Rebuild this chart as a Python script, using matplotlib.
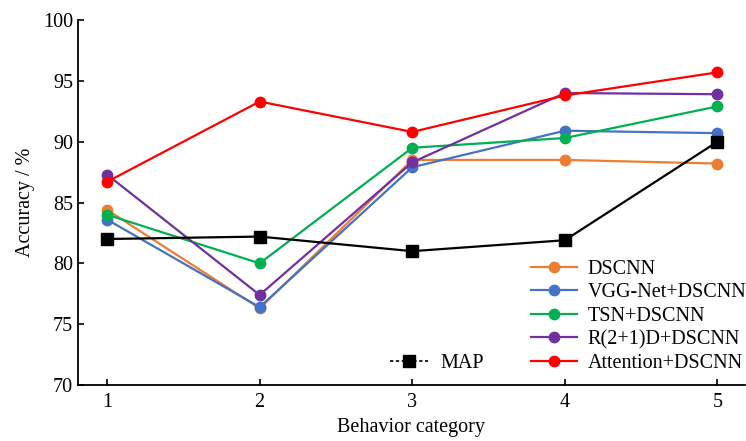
import matplotlib
matplotlib.use('Agg')
import matplotlib.pyplot as plt
from matplotlib.lines import Line2D

plt.rcParams['font.family'] = ['Liberation Serif', 'DejaVu Serif']

categories = [1, 2, 3, 4, 5]

dscnn = [84.4, 76.3, 88.5, 88.5, 88.2]
vgg_dscnn = [83.6, 76.4, 87.9, 90.9, 90.7]
tsn_dscnn = [84.0, 80.0, 89.5, 90.3, 92.9]
r21d_dscnn = [87.3, 77.4, 88.3, 94.0, 93.9]
attn_dscnn = [86.7, 93.3, 90.8, 93.8, 95.7]
map_vals = [82.0, 82.2, 81.0, 81.9, 90.0]

names = ['DSCNN', 'VGG-Net+DSCNN', 'TSN+DSCNN', 'R(2+1)D+DSCNN', 'Attention+DSCNN']
colors = ['#ED7D31', '#4472C4', '#00B050', '#7030A0', '#FF0000']
series = [dscnn, vgg_dscnn, tsn_dscnn, r21d_dscnn, attn_dscnn]

fig = plt.figure(figsize=(7.46, 4.41), dpi=100)
ax = fig.add_axes([0.1046, 0.127, 0.894, 0.8276])

handles = []
for vals, c, n in zip(series, colors, names):
    h, = ax.plot(categories, vals, '-o', color=c, lw=1.6, ms=7.5, label=n)
    handles.append(h)

ax.plot(categories, map_vals, '-s', color='black', lw=1.6, ms=8)

ax.set_xlim(0.81, 5.18)
ax.set_ylim(70, 100)
ax.set_xticks(categories)
ax.set_yticks(range(70, 101, 5))
ax.tick_params(direction='in', labelsize=14.5, length=4, width=1.2)
ax.tick_params(axis='x', pad=6)
for s in ['top', 'right']:
    ax.spines[s].set_visible(False)
for s in ['left', 'bottom']:
    ax.spines[s].set_linewidth(1.3)

ax.set_xlabel('Behavior category', fontsize=14.5, labelpad=4)
ax.set_ylabel('Accuracy / %', fontsize=14.5, labelpad=6)

leg1 = ax.legend(handles=handles, loc='lower right', bbox_to_anchor=(1.02, 0.0),
                 frameon=False, fontsize=14.5, handlelength=2.3, handletextpad=0.5,
                 labelspacing=0.22, borderaxespad=0.2)
ax.add_artist(leg1)

map_handle = Line2D([], [], color='black', ls='--', lw=1.2, marker='s', ms=8,
                    dashes=(2, 1.5))
ax.legend(handles=[map_handle], labels=['MAP'], loc='lower left',
          bbox_to_anchor=(0.45, 0.0), frameon=False, fontsize=14.5,
          handlelength=1.9, handletextpad=0.6, borderaxespad=0.2)

fig.savefig('out.png', dpi=100)
